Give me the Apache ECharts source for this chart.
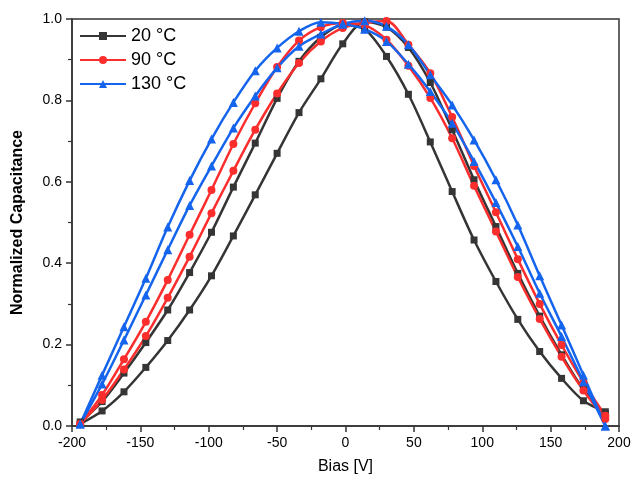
<!DOCTYPE html>
<html>
<head>
<meta charset="utf-8">
<script src="https://cdn.jsdelivr.net/npm/echarts@6/dist/echarts.min.js"></script>
<style>
  html, body { margin: 0; padding: 0; background: #fff; }
  #chart { width: 634px; height: 484px; }
</style>
</head>
<body>
<div id="chart"></div>
<script>
// bias sweep points [V]
const bias = [-194, -178, -162, -146, -130, -114, -98, -82, -66, -50, -34, -18, -2,
  14, 30, 46, 62, 78, 94, 110, 126, 142, 158, 174, 190]

// 20 °C, two sweep directions
const c20a = [0.01, 0.06, 0.13, 0.205, 0.285, 0.377, 0.476, 0.587, 0.695, 0.805, 0.896, 0.955, 0.985,
  0.975, 0.908, 0.815, 0.698, 0.576, 0.457, 0.355, 0.262, 0.183, 0.117, 0.062, 0.035]
const c20b = [0.005, 0.037, 0.084, 0.144, 0.21, 0.285, 0.369, 0.467, 0.568, 0.67, 0.77, 0.853, 0.939,
  0.993, 0.98, 0.93, 0.844, 0.728, 0.605, 0.49, 0.375, 0.27, 0.175, 0.09, 0.03]

// 90 °C
const c90a = [0.005, 0.076, 0.164, 0.256, 0.359, 0.47, 0.58, 0.693, 0.793, 0.882, 0.947, 0.98, 0.99,
  0.985, 0.949, 0.885, 0.806, 0.707, 0.59, 0.478, 0.366, 0.263, 0.17, 0.087, 0.017]
const c90b = [0.005, 0.064, 0.139, 0.221, 0.315, 0.416, 0.523, 0.627, 0.728, 0.817, 0.892, 0.945, 0.978,
  0.99, 0.995, 0.937, 0.867, 0.759, 0.639, 0.525, 0.41, 0.3, 0.199, 0.107, 0.025]

// 130 °C
const c130a = [0.005, 0.125, 0.244, 0.363, 0.489, 0.603, 0.705, 0.795, 0.873, 0.929, 0.97, 0.992, 0.988,
  0.975, 0.945, 0.889, 0.822, 0.744, 0.65, 0.549, 0.441, 0.326, 0.22, 0.109, 0.0]
const c130b = [0.005, 0.103, 0.211, 0.322, 0.433, 0.542, 0.639, 0.732, 0.811, 0.88, 0.933, 0.963, 0.988,
  0.996, 0.982, 0.937, 0.863, 0.789, 0.703, 0.605, 0.494, 0.369, 0.248, 0.125, 0.0]

const names = ['20 °C', '90 °C', '130 °C']

const pairs = (ys) => bias.map((x, i) => [x, ys[i]])

function makeSeries (name, ys, color, symbol, size) {
  return {
    name: name,
    type: 'line',
    data: pairs(ys),
    smooth: 0.3,
    symbol: symbol,
    symbolSize: size,
    lineStyle: { color: color, width: 2.5 },
    itemStyle: { color: color },
    z: 2
  }
}

let myChart = echarts.init(document.getElementById('chart'))

let option = {
  animation: false,
  textStyle: { fontFamily: 'Liberation Sans, Arial, sans-serif', color: '#000' },
  grid: {
    left: 72,
    right: 15,
    top: 19,
    bottom: 58,
    show: true,
    borderColor: '#333',
    borderWidth: 1.5,
    backgroundColor: 'transparent'
  },
  legend: {
    data: names,
    orient: 'vertical',
    left: 74,
    top: 22,
    itemWidth: 46,
    itemHeight: 10,
    itemGap: 6,
    textStyle: { fontSize: 18, color: '#000', fontFamily: 'Liberation Sans, Arial, sans-serif' }
  },
  xAxis: {
    type: 'value',
    min: -200,
    max: 200,
    interval: 50,
    name: 'Bias [V]',
    nameLocation: 'middle',
    nameGap: 33,
    nameTextStyle: { fontSize: 16, color: '#000' },
    axisLine: { show: true, onZero: false, lineStyle: { color: '#333', width: 1.5 } },
    axisTick: { show: true, length: 6, lineStyle: { color: '#333', width: 1.5 } },
    minorTick: { show: true, splitNumber: 2, length: 4, lineStyle: { color: '#333', width: 1.2 } },
    axisLabel: { fontSize: 14, color: '#000', margin: 10 },
    splitLine: { show: false }
  },
  yAxis: {
    type: 'value',
    min: 0,
    max: 1,
    interval: 0.2,
    name: 'Normalized Capacitance',
    nameLocation: 'middle',
    nameGap: 46,
    nameTextStyle: { fontSize: 16, fontWeight: 'bold', color: '#000' },
    axisLine: { show: true, onZero: false, lineStyle: { color: '#333', width: 1.5 } },
    axisTick: { show: true, length: 6, lineStyle: { color: '#333', width: 1.5 } },
    minorTick: { show: true, splitNumber: 2, length: 4, lineStyle: { color: '#333', width: 1.2 } },
    axisLabel: {
      fontSize: 14,
      color: '#000',
      margin: 10,
      formatter: v => v.toFixed(1)
    },
    splitLine: { show: false }
  },
  series: [
    makeSeries(names[0], c20a, '#353535', 'rect', 7),
    makeSeries(names[0], c20b, '#353535', 'rect', 7),
    makeSeries(names[1], c90a, '#fb2d2d', 'circle', 8),
    makeSeries(names[1], c90b, '#fb2d2d', 'circle', 8),
    makeSeries(names[2], c130a, '#1464ee', 'triangle', 9),
    makeSeries(names[2], c130b, '#1464ee', 'triangle', 9)
  ]
}
myChart.setOption(option, true)
</script>
</body>
</html>
